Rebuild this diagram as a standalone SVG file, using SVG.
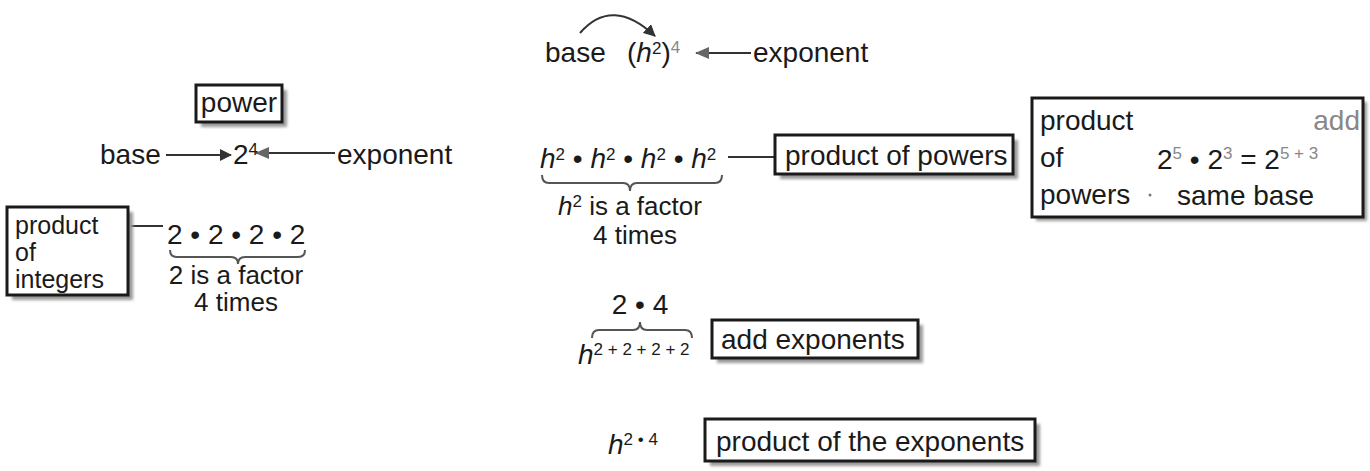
<svg xmlns="http://www.w3.org/2000/svg" width="1370" height="471" viewBox="0 0 1370 471">
<style>
text{font-family:"Liberation Sans",Arial,sans-serif;font-size:28px;fill:#1a1a1a}
.i{font-style:italic}
.sup{font-size:17px}
.g{fill:#888}
.s{font-size:26px}
.xs{font-size:25px}
.box{fill:#fff;stroke:#1a1a1a;stroke-width:3}
.sh{fill:#9a9a9a}
.br{fill:none;stroke:#555;stroke-width:2}
.ln{stroke:#333;stroke-width:2;fill:none}
</style>
<defs>
<filter id="blur" x="-10%" y="-10%" width="120%" height="130%"><feGaussianBlur stdDeviation="1.5"/></filter>
<marker id="ah" markerWidth="12" markerHeight="12" refX="11" refY="6" orient="auto" markerUnits="userSpaceOnUse"><path d="M0,0 L12,6 L0,12 Z" fill="#333"/></marker>
<marker id="ahg" markerWidth="14" markerHeight="12" refX="13" refY="6" orient="auto" markerUnits="userSpaceOnUse"><path d="M0,0 L14,6 L0,12 Z" fill="#666"/></marker>
</defs>

<g id="connectors">
<path class="ln" d="M580,33 Q612,-4 655,36" marker-end="url(#ah)"/>
<line class="ln" x1="751" y1="53" x2="696" y2="53" stroke="#666" marker-end="url(#ahg)"/>
<line class="ln" x1="166" y1="155" x2="231" y2="155" marker-end="url(#ah)"/>
<line class="ln" x1="335" y1="153" x2="256" y2="153" stroke="#666" marker-end="url(#ahg)"/>
<line class="ln" x1="130" y1="226" x2="163" y2="226"/>
<line class="ln" x1="728" y1="157" x2="775" y2="157"/>
<line class="ln" x1="1175" y1="176" x2="1186" y2="191"/>
<line class="ln" x1="1198" y1="176" x2="1190" y2="191"/>
</g>

<g id="top-expression">
<text x="545" y="62">base</text>
<text x="627" y="62">(<tspan class="i">h</tspan><tspan class="sup" dy="-8">2</tspan><tspan dy="8">)</tspan><tspan class="sup g" dy="-9">4</tspan></text>
<text x="753" y="62">exponent</text>
</g>

<g id="power">
<rect class="sh" x="201" y="90" width="86" height="37" filter="url(#blur)"/>
<rect class="box" x="196" y="85" width="86" height="37"/>
<text x="239" y="112" text-anchor="middle">power</text>
</g>

<g id="base-row">
<text x="100" y="164">base</text>
<text x="233" y="164">2<tspan class="sup" dy="-9">4</tspan></text>
<text x="337" y="164">exponent</text>
</g>

<g id="product-of-integers">
<rect class="sh" x="12" y="212" width="121" height="88" filter="url(#blur)"/>
<rect class="box" x="7" y="207" width="121" height="88"/>
<text class="xs"><tspan x="15" y="234">product</tspan><tspan x="15" y="261">of</tspan><tspan x="15" y="288">integers</tspan></text>
</g>

<g id="integers-expr">
<text x="167" y="244">2 • 2 • 2 • 2</text>
<path class="br" d="M170,250 Q170,257 177,257 L231,257 Q238,257 238,264 Q238,257 245,257 L298,257 Q305,257 305,250"/>
<text class="s" text-anchor="middle"><tspan x="236" y="284">2 is a factor</tspan><tspan x="236" y="311">4 times</tspan></text>
</g>

<g id="h-expr">
<text x="540" y="168"><tspan class="i">h</tspan><tspan class="sup" dy="-8">2</tspan><tspan dy="8"> • </tspan><tspan class="i">h</tspan><tspan class="sup" dy="-8">2</tspan><tspan dy="8"> • </tspan><tspan class="i">h</tspan><tspan class="sup" dy="-8">2</tspan><tspan dy="8"> • </tspan><tspan class="i">h</tspan><tspan class="sup" dy="-8">2</tspan></text>
<path class="br" d="M542,175 Q542,183 549,183 L623,183 Q630,183 630,191 Q630,183 637,183 L715,183 Q722,183 722,175"/>
<text class="s" x="558" y="215"><tspan class="i">h</tspan><tspan class="sup" dy="-8">2</tspan><tspan dy="8"> is a factor</tspan></text>
<text class="s" x="635" y="244" text-anchor="middle">4 times</text>
</g>

<g id="product-of-powers">
<rect class="sh" x="780" y="140" width="238" height="39" filter="url(#blur)"/>
<rect class="box" x="775" y="135" width="238" height="39"/>
<text x="785" y="165">product of powers</text>
</g>

<g id="product-of-powers-rule">
<rect class="sh" x="1036" y="102" width="331" height="119" filter="url(#blur)"/>
<rect class="box" x="1032" y="98" width="331" height="119"/>
<text><tspan x="1040" y="130">product</tspan><tspan x="1040" y="167">of</tspan><tspan x="1040" y="204">powers</tspan></text>
<text x="1360" y="130" text-anchor="end" class="g">add</text>
<text x="1157" y="169">2<tspan class="sup g" dy="-10">5</tspan><tspan dy="10"> • 2</tspan><tspan class="sup g" dy="-10">3</tspan><tspan dy="10"> = 2</tspan><tspan class="sup g" dy="-10">5 + 3</tspan></text>
<circle cx="1150" cy="195" r="1.5" fill="#777"/>
<text x="1177" y="205">same base</text>
</g>

<g id="add-expr">
<text x="640" y="314" text-anchor="middle">2 • 4</text>
<path class="br" d="M592,338 Q592,330 599,330 L633,330 Q640,330 640,322 Q640,330 647,330 L685,330 Q692,330 692,338"/>
<text x="578" y="364"><tspan class="i">h</tspan><tspan class="sup" dy="-9">2 + 2 + 2 + 2</tspan></text>
</g>

<g id="add-exponents">
<rect class="sh" x="717" y="325" width="206" height="38" filter="url(#blur)"/>
<rect class="box" x="712" y="320" width="206" height="38"/>
<text x="721" y="349">add exponents</text>
</g>

<g id="mult-expr">
<text x="608" y="454"><tspan class="i">h</tspan><tspan class="sup" dy="-9">2 • 4</tspan></text>
</g>

<g id="product-of-exponents">
<rect class="sh" x="710" y="424" width="330" height="42" filter="url(#blur)"/>
<rect class="box" x="705" y="419" width="330" height="42"/>
<text x="716" y="451">product of the exponents</text>
</g>
</svg>
